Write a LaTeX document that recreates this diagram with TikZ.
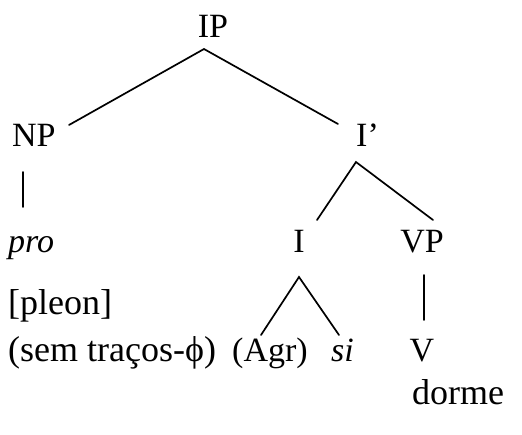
\documentclass[tikz,border=0pt]{standalone}
\usepackage{fontspec}
\setmainfont{Liberation Serif}
\begin{document}
\begin{tikzpicture}[x=1pt,y=-1pt,
  capsize/.style={inner sep=0pt,font=\fontsize{34}{40}\selectfont},
  lowsize/.style={inner sep=0pt,font=\fontsize{36}{42}\selectfont},
  midsize/.style={inner sep=0pt,font=\fontsize{34}{40}\selectfont},
  branch/.style={line width=1.7pt,line cap=round}]
\useasboundingbox (0,0) rectangle (522,434);
% labels
\node[capsize,anchor=base] (IP) at (213,37) {IP};
\node[capsize,anchor=base west] (NP) at (12,146) {NP};
\node[capsize,anchor=base west] (Ibar) at (356,146) {I’};
\node[midsize,anchor=base west] (pro) at (8,252) {\itshape pro};
\node[capsize,anchor=base] (I) at (299,252) {I};
\node[capsize,anchor=base] (VP) at (422,252) {VP};
\node[lowsize,anchor=base west] (pleon) at (8,314) {[pleon]};
\node[lowsize,anchor=base west] (sem) at (8,361) {(sem traços-ϕ)};
\node[midsize,anchor=base west] (Agr) at (232,361) {(Agr)};
\node[midsize,anchor=base west] (si) at (331,361) {\itshape si};
\node[capsize,anchor=base] (V) at (422,361) {V};
\node[lowsize,anchor=base west] (dorme) at (412,404) {dorme};
% branch end points
\coordinate (ipA) at (204,49);
\coordinate (npT) at (69,125);
\coordinate (ibT) at (338,124);
\coordinate (npA) at (23,172);
\coordinate (proT) at (23,207);
\coordinate (ibA) at (356,162);
\coordinate (iT) at (317,220);
\coordinate (vpT) at (433,220);
\coordinate (iA) at (299,277);
\coordinate (agrT) at (261,335);
\coordinate (siT) at (339,335);
\coordinate (vpA) at (424,275);
\coordinate (vT) at (424,320);
% branches
\draw[branch] (npT) -- (ipA) -- (ibT);
\draw[branch] (npA) -- (proT);
\draw[branch] (iT) -- (ibA) -- (vpT);
\draw[branch] (agrT) -- (iA) -- (siT);
\draw[branch] (vpA) -- (vT);
\end{tikzpicture}
\end{document}
